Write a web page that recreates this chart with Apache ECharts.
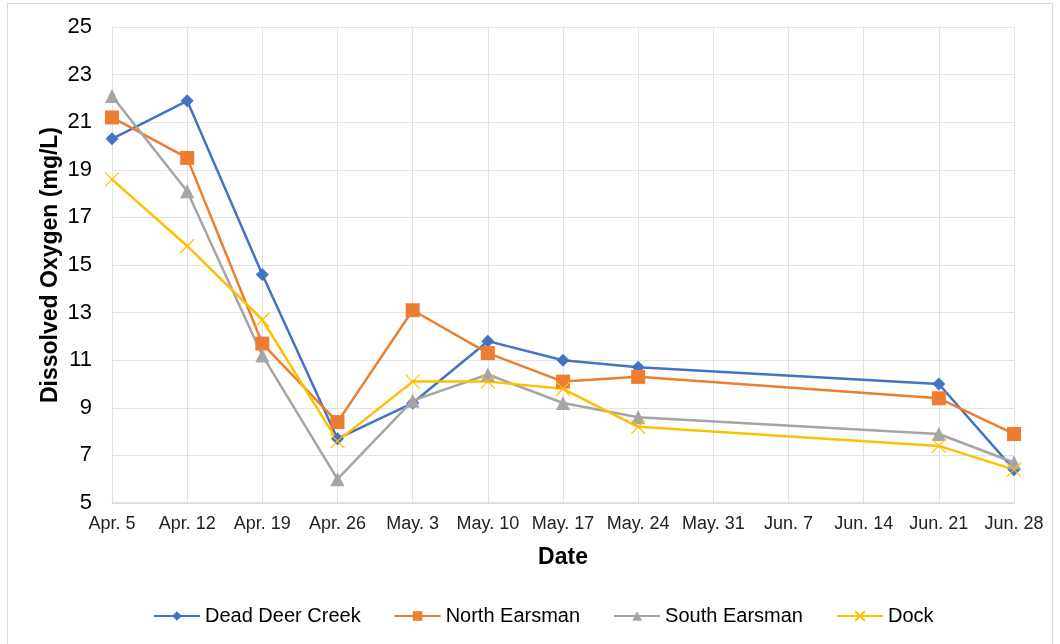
<!DOCTYPE html>
<html>
<head>
<meta charset="utf-8">
<script src="https://cdn.jsdelivr.net/npm/echarts@6/dist/echarts.min.js"></script>
<style>
  html, body { margin: 0; padding: 0; background: #ffffff; }
  #frame { position: absolute; left: 7px; top: 3px; width: 1046px; height: 650px; border: 1px solid #d9d9d9; box-sizing: border-box; }
  #chart { width: 1060px; height: 644px; }
</style>
</head>
<body>
<div id="frame"></div>
<div id="chart"></div>
<script>
// Weekly sampling dates (Apr 5 – Jun 28)
const dates = ['Apr. 5', 'Apr. 12', 'Apr. 19', 'Apr. 26', 'May. 3', 'May. 10', 'May. 17',
               'May. 24', 'May. 31', 'Jun. 7', 'Jun. 14', 'Jun. 21', 'Jun. 28'];

// Dissolved oxygen (mg/L) per site; null = no sample that week
const deadDeerCreek = [20.3, 21.9, 14.6, 7.7, 9.2, 11.8, 11.0, 10.7, null, null, null, 10.0, 6.4];
const northEarsman  = [21.2, 19.5, 11.7, 8.4, 13.1, 11.3, 10.1, 10.3, null, null, null, 9.4, 7.9];
const southEarsman  = [22.1, 18.1, 11.2, 6.0, 9.3, 10.4, 9.2, 8.6, null, null, null, 7.9, 6.7];
const dock          = [18.6, 15.8, 12.7, 7.6, 10.1, 10.1, 9.8, 8.2, null, null, null, 7.4, 6.4];

const yTicks = { min: 5, max: 25, interval: 2 };

const chart = echarts.init(document.getElementById('chart'));

function lineSeries(name, data, color, symbol, size, extra) {
  return Object.assign({
    name: name,
    type: 'line',
    data: data,
    connectNulls: true,
    symbol: symbol,
    symbolSize: size,
    showAllSymbol: true,
    lineStyle: { color: color, width: 2.5 },
    itemStyle: { color: color },
    emphasis: { disabled: true }
  }, extra || {});
}

chart.setOption({
  animation: false,
  textStyle: { fontFamily: 'Liberation Sans, Arial, sans-serif' },
  grid: { left: 112, right: 46, top: 27, bottom: 141, containLabel: false },
  legend: {
    top: 601,
    left: 148,
    itemWidth: 46,
    itemHeight: 12,
    itemGap: 33,
    textStyle: { fontSize: 20, color: '#000000', fontFamily: 'Liberation Sans, Arial, sans-serif' },
    data: ['Dead Deer Creek', 'North Earsman', 'South Earsman', 'Dock']
  },
  xAxis: {
    type: 'category',
    data: dates,
    boundaryGap: false,
    name: 'Date',
    nameLocation: 'middle',
    nameGap: 43,
    nameMoveOverlap: false,
    nameTextStyle: { fontSize: 23, fontWeight: 'bold', color: '#000000' },
    axisLine: { lineStyle: { color: '#d9d9d9', width: 1.5 } },
    axisTick: { show: false },
    axisLabel: { fontSize: 18, color: '#222222', margin: 12, interval: 0 },
    splitLine: { show: true, lineStyle: { color: '#e3e3e3', width: 1 } }
  },
  yAxis: {
    type: 'value',
    min: yTicks.min,
    max: yTicks.max,
    interval: yTicks.interval,
    name: 'Dissolved Oxygen (mg/L)',
    nameLocation: 'middle',
    nameGap: 50,
    nameMoveOverlap: false,
    nameTextStyle: { fontSize: 23, fontWeight: 'bold', color: '#000000' },
    axisLine: { show: true, lineStyle: { color: '#e3e3e3', width: 1 } },
    axisTick: { show: false },
    axisLabel: { fontSize: 22, color: '#000000', margin: 20 },
    splitLine: { show: true, lineStyle: { color: '#e3e3e3', width: 1 } }
  },
  series: [
    lineSeries('Dead Deer Creek', deadDeerCreek, '#4472C4', 'diamond', 13),
    lineSeries('North Earsman', northEarsman, '#ED7D31', 'rect', 14),
    lineSeries('South Earsman', southEarsman, '#A5A5A5', 'triangle', 14),
    lineSeries('Dock', dock, '#FFC000', 'path://M0,0L10,10M10,0L0,10', 14, {
      itemStyle: { color: 'rgba(0,0,0,0)', borderColor: '#FFC000', borderWidth: 1.2 }
    })
  ]
});
</script>
</body>
</html>
